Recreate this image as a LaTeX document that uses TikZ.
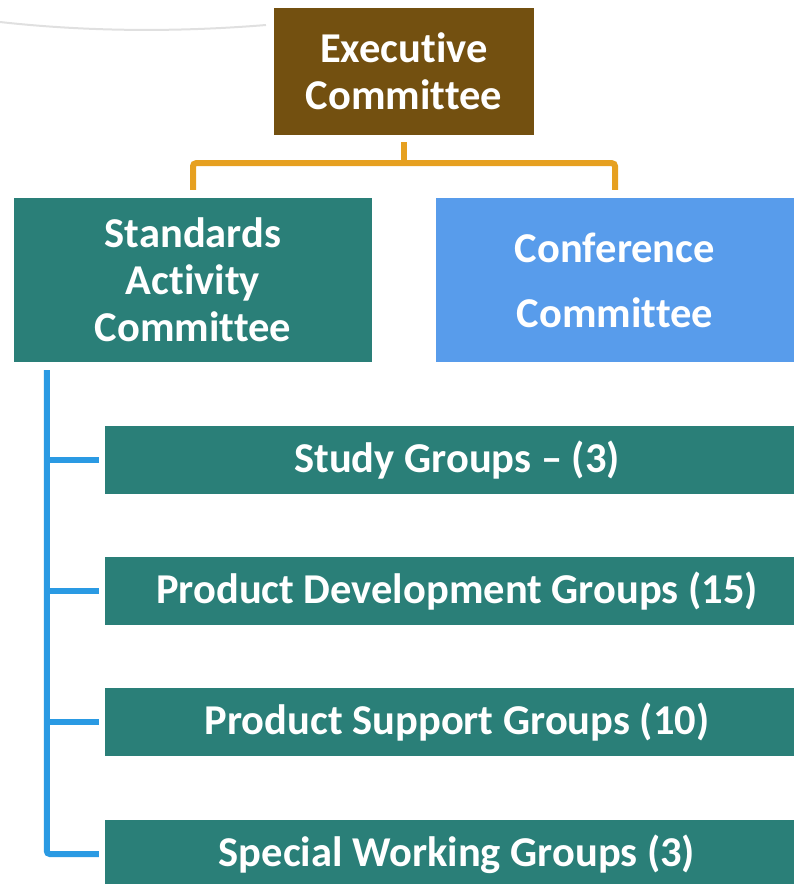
\documentclass[tikz,border=0pt]{standalone}
\usepackage{fontspec}
\setmainfont{Carlito}[Ligatures=NoCommon]
\usetikzlibrary{positioning}

\definecolor{execbrown}{HTML}{735010}
\definecolor{sacteal}{HTML}{2A7F78}
\definecolor{confblue}{HTML}{589CEB}
\definecolor{bracketgold}{HTML}{E6A020}
\definecolor{treeblue}{HTML}{2A9AE3}

\tikzset{
    box/.style={inner sep=0pt, text=white, align=center, font=\bfseries\fontsize{42.5}{47}\selectfont},
    groupbox/.style={box, fill=sacteal, minimum width=704, minimum height=68},
    goldline/.style={bracketgold, line width=6pt, rounded corners=3pt},
    blueline/.style={treeblue, line width=6pt, rounded corners=3pt}
}

\begin{document}
\begin{tikzpicture}[x=1pt,y=-1pt]
        \useasboundingbox (0,0) rectangle (794,884);
        \clip (0,0) rectangle (794,884);

        % faint stroke left over from the slide
        \draw[black!12, line width=2pt] (0,22) .. controls (90,32) and (180,32) .. (266,25);

        \node[box, fill=execbrown, minimum width=260, minimum height=127] (exec) at (404,71.5) {Executive\\Committee};
        \node[box, fill=sacteal, minimum width=358, minimum height=164] (sac) at (193,280) {Standards\\Activity\\Committee};
        \node[box, fill=confblue, minimum width=358, minimum height=164,
              font=\bfseries\fontsize{42.5}{65}\selectfont] (conf) at (615,280) {Conference\\Committee};

        \foreach \name/\y/\txt in {sg/460/{Study Groups – (3)},
                                   pdg/591/{Product Development Groups (15)},
                                   psg/722/{Product Support Groups (10)},
                                   swg/854/{Special Working Groups (3)}}{
            \node[groupbox] (\name) at (457,\y) {\txt};
        }

        \coordinate (split) at ([yshift=-28pt]exec.south);
        \draw[goldline] ([yshift=-7pt]exec.south) -- (split);
        \draw[goldline] ([yshift=8pt]sac.north) |- (split) -| ([yshift=8pt]conf.north);

        \coordinate (trunk) at ([xshift=33pt,yshift=-8pt]sac.south west);
        \draw[blueline] (trunk) |- ([xshift=-6pt]swg.west);
        \foreach \name in {sg,pdg,psg}{
            \draw[blueline] (trunk |- \name.west) -- ([xshift=-6pt]\name.west);
        }
    \end{tikzpicture}
\end{document}
